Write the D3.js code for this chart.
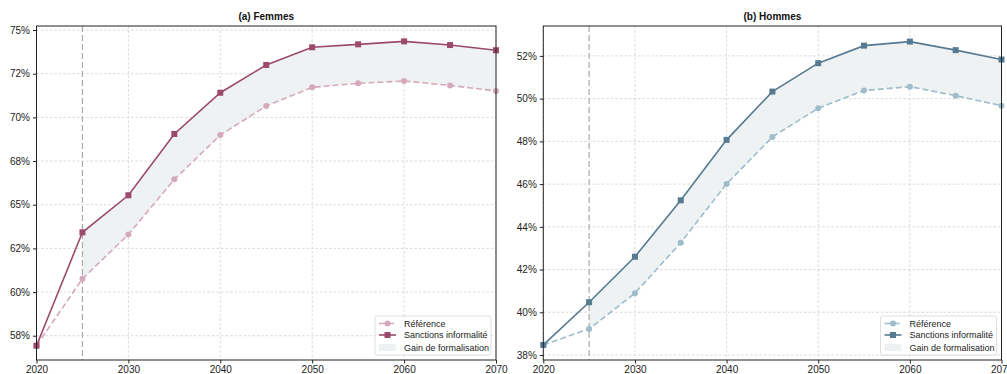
<!DOCTYPE html>
<html><head><meta charset="utf-8">
<script src="https://cdn.jsdelivr.net/npm/d3@7"></script>
<style>
body{margin:0;background:#fff;}
svg{display:block;font-family:"Liberation Sans",Arial,sans-serif;}
</style></head><body>
<svg id="c" width="1007" height="374"></svg>
<script>
const years = [2020,2025,2030,2035,2040,2045,2050,2055,2060,2065,2070];
const femmesRef = [56.93,60.76,63.30,66.45,68.99,70.65,71.72,71.95,72.08,71.83,71.51];
const femmesSanc = [56.93,63.42,65.54,69.05,71.41,73.00,74.01,74.18,74.35,74.14,73.84];
const hommesRef = [38.47,39.22,40.89,43.26,46.01,48.21,49.55,50.38,50.56,50.14,49.67];
const hommesSanc = [38.47,40.47,42.60,45.24,48.07,50.33,51.66,52.48,52.67,52.27,51.83];
const xTicks = [2020,2030,2040,2050,2060,2070];
const femmesYTicks = [57.5,60,62.5,65,67.5,70,72.5,75];
const femmesYLabels = ["58%","60%","62%","65%","68%","70%","72%","75%"];
const hommesYTicks = [38,40,42,44,46,48,50,52];
const hommesYLabels = ["38%","40%","42%","44%","46%","48%","50%","52%"];
const legendLabels = ["Référence","Sanctions informalité","Gain de formalisation"];
const policyYear = 2025;

const svg = d3.select("#c");

function panel(o){
  const g = svg.append("g");
  const x = d3.scaleLinear().domain([2020,2070]).range([o.x0,o.x1]);
  const y = d3.scaleLinear().domain(o.ydom).range([360,26]);
  // grid
  g.append("g").selectAll("line").data(o.yt).join("line")
    .attr("x1",o.x0).attr("x2",o.x1).attr("y1",d=>y(d)).attr("y2",d=>y(d))
    .attr("stroke","#d0d0d0").attr("stroke-width",0.8).attr("stroke-dasharray","2.5,2");
  g.append("g").selectAll("line").data(xTicks).join("line")
    .attr("y1",26).attr("y2",360).attr("x1",d=>x(d)).attr("x2",d=>x(d))
    .attr("stroke","#d0d0d0").attr("stroke-width",0.8).attr("stroke-dasharray","2.5,2");
  // fill area
  const idx = years.map((d,i)=>i).filter(i=>years[i]>=policyYear);
  g.append("path").datum(idx)
    .attr("d",d3.area().x(i=>x(years[i])).y0(i=>y(o.ref[i])).y1(i=>y(o.sanc[i])))
    .attr("fill","#eef2f3");
  // policy line
  g.append("line").attr("x1",x(policyYear)).attr("x2",x(policyYear)).attr("y1",26).attr("y2",360)
    .attr("stroke","#aaaaaa").attr("stroke-width",1.2).attr("stroke-dasharray","6,3");
  const line = arr => d3.line().x((d,i)=>x(years[i])).y(d=>y(d))(arr);
  g.append("path").attr("d",line(o.ref)).attr("fill","none").attr("stroke",o.cRef)
    .attr("stroke-width",1.6).attr("stroke-dasharray","6,3");
  g.append("g").selectAll("circle").data(o.ref).join("circle")
    .attr("cx",(d,i)=>x(years[i])).attr("cy",d=>y(d)).attr("r",3).attr("fill",o.cRef);
  g.append("path").attr("d",line(o.sanc)).attr("fill","none").attr("stroke",o.cSanc)
    .attr("stroke-width",1.6);
  g.append("g").selectAll("rect").data(o.sanc).join("rect")
    .attr("x",(d,i)=>x(years[i])-3).attr("y",d=>y(d)-3).attr("width",6).attr("height",6).attr("fill",o.cSanc);
  // spines
  g.append("rect").attr("x",o.x0).attr("y",26).attr("width",o.x1-o.x0).attr("height",334)
    .attr("fill","none").attr("stroke","#222").attr("stroke-width",1);
  // axes
  const ya = g.append("g").attr("transform",`translate(${o.x0},0)`)
    .call(d3.axisLeft(y).tickValues(o.yt).tickFormat((d,i)=>o.yl[i]).tickSize(3.5).tickPadding(3));
  const xa = g.append("g").attr("transform",`translate(0,360)`)
    .call(d3.axisBottom(x).tickValues(xTicks).tickFormat(d3.format("d")).tickSize(3.5).tickPadding(2));
  [ya,xa].forEach(a=>{a.select(".domain").remove();
    a.selectAll("text").attr("font-size","10px").attr("fill","#222").attr("font-family","Liberation Sans, Arial, sans-serif");
    a.selectAll("line").attr("stroke","#222");});
  // title
  g.append("text").attr("x",(o.x0+o.x1)/2).attr("y",20).attr("text-anchor","middle")
    .attr("font-size","10px").attr("font-weight","bold").attr("fill","#111").text(o.title);
  // legend
  const lx = o.x1-121, ly = 316;
  const L = g.append("g").attr("transform",`translate(${lx},${ly})`);
  L.append("rect").attr("width",116).attr("height",39).attr("rx",2).attr("fill","#fff").attr("fill-opacity",0.85)
    .attr("stroke","#d6d6d6").attr("stroke-width",0.8);
  const rows=[7.5,19,31.5];
  L.append("line").attr("x1",4).attr("x2",21).attr("y1",rows[0]).attr("y2",rows[0]).attr("stroke",o.cRef).attr("stroke-width",1.6).attr("stroke-dasharray","6,3");
  L.append("circle").attr("cx",12.5).attr("cy",rows[0]).attr("r",3).attr("fill",o.cRef);
  L.append("line").attr("x1",4).attr("x2",21).attr("y1",rows[1]).attr("y2",rows[1]).attr("stroke",o.cSanc).attr("stroke-width",1.6);
  L.append("rect").attr("x",9.5).attr("y",rows[1]-3).attr("width",6).attr("height",6).attr("fill",o.cSanc);
  L.append("rect").attr("x",4).attr("y",rows[2]-3.5).attr("width",17).attr("height",7).attr("fill","#eef2f3");
  L.selectAll("text").data(legendLabels).join("text").attr("x",29).attr("y",(d,i)=>rows[i]+3.2)
    .attr("font-size","9px").attr("fill","#222").text(d=>d);
}

panel({x0:36.5,x1:496,ydom:[56.11,75.23],yt:femmesYTicks,yl:femmesYLabels,ref:femmesRef,sanc:femmesSanc,
  cRef:"#d5a9bc",cSanc:"#9b4a6c",title:"(a) Femmes"});
panel({x0:543.3,x1:1001.5,ydom:[37.766,53.40],yt:hommesYTicks,yl:hommesYLabels,ref:hommesRef,sanc:hommesSanc,
  cRef:"#9fbccb",cSanc:"#557a91",title:"(b) Hommes"});
</script>
</body></html>
